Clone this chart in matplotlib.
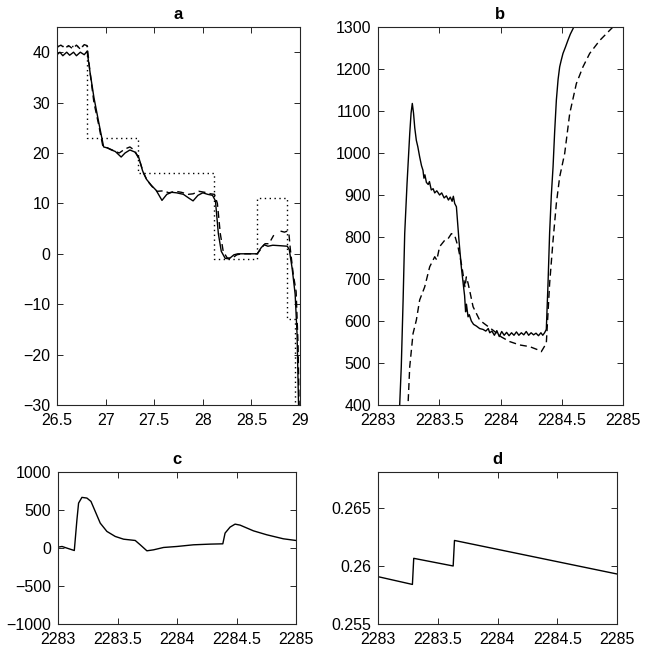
import numpy as np
import matplotlib
matplotlib.use("Agg")
import matplotlib.pyplot as plt

plt.rcParams['font.family'] = ['Liberation Sans', 'DejaVu Sans']
plt.rcParams['font.size'] = 11.5

# ---------------- Panel a ----------------
a_solid_x = [26.50, 26.53, 26.56, 26.60, 26.63, 26.67, 26.70, 26.74, 26.78, 26.81,
             26.84, 26.88, 26.93, 26.98, 27.02, 27.06, 27.10, 27.16, 27.20, 27.25,
             27.30, 27.34, 27.38, 27.42, 27.47, 27.52, 27.58, 27.63, 27.68, 27.73,
             27.80, 27.86, 27.90, 27.95, 28.00, 28.05, 28.10, 28.13, 28.16, 28.19,
             28.23, 28.27, 28.32, 28.36, 28.56, 28.60, 28.63, 28.67, 28.72, 28.80,
             28.87, 28.89, 28.92, 28.95, 28.97, 28.985, 29.0]
a_solid_y = [39.5, 40.0, 39.3, 40.0, 39.4, 40.0, 39.3, 40.0, 39.5, 40.2,
             36.0, 31.0, 26.0, 21.2, 21.0, 20.6, 20.3, 19.2, 20.0, 20.6,
             20.2, 19.2, 16.5, 14.8, 13.6, 12.6, 10.6, 11.8, 12.2, 12.1,
             11.8, 11.0, 10.5, 11.6, 12.1, 11.8, 11.6, 10.5, 4.0, 0.5,
             -0.9, -1.0, -0.2, 0.0, 0.0, 1.2, 1.8, 1.5, 1.7, 1.6,
             1.5, 0.8, -3.0, -8.0, -16.0, -30.0, -45.0]

a_dash_x = [26.50, 26.54, 26.58, 26.62, 26.66, 26.70, 26.74, 26.78, 26.81, 26.84,
            26.88, 26.93, 26.97, 27.02, 27.08, 27.14, 27.20, 27.25, 27.30, 27.35,
            27.39, 27.43, 27.48, 27.53, 27.60, 27.65, 27.72, 27.78, 27.85, 27.90,
            27.96, 28.02, 28.08, 28.12, 28.15, 28.18, 28.21, 28.25, 28.30, 28.35,
            28.40, 28.56, 28.60, 28.64, 28.68, 28.73, 28.76, 28.80, 28.84, 28.87,
            28.885, 28.90, 28.93, 28.96, 28.98, 28.995]
a_dash_y = [41.0, 41.4, 40.8, 41.3, 40.7, 41.4, 40.6, 41.5, 41.3, 36.0,
            30.0, 25.5, 21.5, 21.0, 20.5, 20.0, 20.8, 21.2, 20.5, 18.5,
            16.0, 14.5, 13.3, 12.4, 12.5, 12.1, 12.4, 12.2, 11.8, 11.9,
            12.4, 12.2, 11.9, 11.8, 10.0, 4.0, 0.5, -0.8, -0.9, -0.2,
            0.0, 0.0, 1.0, 2.0, 2.0, 3.7, np.nan, 4.5, 4.3, 4.5,
            4.2, 1.0, -4.0, -7.5, -18.0, -35.0]

a_ref_x = [26.50, 26.81, 26.81, 27.33, 27.33, 28.12, 28.12, 28.56, 28.56, 28.87, 28.87, 28.95, 28.95]
a_ref_y = [41.3, 41.3, 23.0, 23.0, 16.0, 16.0, -1.0, -1.0, 11.0, 11.0, -13.0, -13.0, -40.0]

# ---------------- Panel b ----------------
b_solid_x = [2283.170, 2283.177, 2283.190, 2283.205, 2283.218, 2283.237, 2283.259, 2283.270,
             2283.280, 2283.290, 2283.300, 2283.313, 2283.325, 2283.340, 2283.355, 2283.367,
             2283.375, 2283.383, 2283.395, 2283.410, 2283.420, 2283.435, 2283.450, 2283.463,
             2283.480, 2283.503, 2283.520, 2283.540, 2283.558, 2283.575, 2283.590, 2283.605,
             2283.615, 2283.626, 2283.640, 2283.661, 2283.680, 2283.695, 2283.707, 2283.715,
             2283.722, 2283.735, 2283.745, 2283.762, 2283.780, 2283.803, 2283.830, 2283.857,
             2283.880, 2283.900, 2283.912, 2283.930, 2283.950, 2283.970, 2283.990, 2284.010,
             2284.030, 2284.050, 2284.070, 2284.090, 2284.110, 2284.130, 2284.150, 2284.170,
             2284.190, 2284.210, 2284.230, 2284.250, 2284.270, 2284.290, 2284.310, 2284.330,
             2284.345, 2284.360, 2284.374, 2284.388, 2284.401, 2284.415, 2284.429, 2284.442,
             2284.456, 2284.470, 2284.483, 2284.495, 2284.510, 2284.530, 2284.550, 2284.570,
             2284.592, 2284.620]
b_solid_y = [330, 400, 491, 650, 808, 927, 1046, 1095,
             1118, 1095, 1060, 1030, 1015, 991, 970, 959,
             940, 948, 930, 925, 932, 912, 915, 905,
             910, 900, 905, 893, 898, 888, 895, 885,
             897, 880, 872, 792, 729, 690, 660, 622,
             640, 610, 615, 600, 592, 588, 582, 580,
             576, 582, 572, 576, 566, 577, 563, 575,
             566, 573, 565, 572, 566, 574, 566, 572,
             567, 575, 566, 572, 567, 571, 565, 572,
             566, 572, 580, 690, 810, 900, 967, 1050,
             1126, 1175, 1205, 1220, 1237, 1252, 1268, 1283,
             1296, 1315]

b_dash_x = [2283.235, 2283.245, 2283.259, 2283.286, 2283.313, 2283.340, 2283.381, 2283.422,
            2283.463, 2283.480, 2283.503, 2283.544, 2283.570, 2283.599, 2283.626, 2283.653,
            2283.680, 2283.690, 2283.700, 2283.710, 2283.721, 2283.735, 2283.748, 2283.776,
            2283.803, 2283.830, 2283.884, 2283.939, 2284.007, 2284.075, 2284.156, 2284.238,
            2284.300, 2284.333, 2284.374, 2284.401, 2284.429, 2284.456, 2284.483, 2284.524,
            2284.565, 2284.619, 2284.673, 2284.728, 2284.810, 2284.918, 2284.960]
b_dash_y = [330, 400, 491, 570, 602, 650, 681, 729,
            753, 745, 777, 792, 795, 808, 804, 777,
            737, 720, 700, 680, 705, 690, 673, 634,
            618, 602, 590, 578, 562, 551, 543, 539,
            532, 527, 547, 689, 792, 880, 943, 999,
            1094, 1165, 1205, 1237, 1268, 1300, 1320]

# ---------------- Panel c ----------------
c_x = [2283.000, 2283.034, 2283.076, 2283.137, 2283.159, 2283.173, 2283.201, 2283.243,
       2283.277, 2283.313, 2283.355, 2283.411, 2283.481, 2283.551, 2283.649, 2283.691,
       2283.747, 2283.803, 2283.887, 2283.999, 2284.138, 2284.278, 2284.385, 2284.404,
       2284.446, 2284.488, 2284.530, 2284.642, 2284.754, 2284.894, 2285.000]
c_y = [11, 20, -2, -33, 371, 591, 666, 657,
       613, 481, 327, 218, 152, 116, 99, 42,
       -37, -24, 7, 20, 42, 51, 55, 196,
       275, 314, 301, 226, 174, 121, 99]

# ---------------- Panel d ----------------
d_x = [2283.000, 2283.288, 2283.299, 2283.629, 2283.640, 2285.000]
d_y = [0.25908, 0.25841, 0.26066, 0.26000, 0.26220, 0.25931]

W, H = 645, 656
fig = plt.figure(figsize=(W / 100, H / 100), dpi=100)

def box(l, r, t, b):
    return [l / W, (H - b) / H, (r - l) / W, (b - t) / H]

def style(ax, title):
    ax.set_title(title, fontweight='bold', fontsize=12, pad=6)
    ax.tick_params(direction='in', top=True, right=True, length=4, width=0.7,
                   colors='#262626', labelcolor='black')
    ax.tick_params(axis='x', pad=6)
    ax.tick_params(axis='y', pad=5)
    for s in ax.spines.values():
        s.set_linewidth(0.8)
        s.set_color('#262626')

lw = 1.0
dash = (0, (5, 3))

ax_a = fig.add_axes(box(57, 300, 27, 405))
ax_a.plot(a_ref_x, a_ref_y, color='black', lw=1.0, linestyle=(0, (1, 2.5)))
ax_a.plot(a_dash_x, a_dash_y, color='black', lw=lw, linestyle=dash)
ax_a.plot(a_solid_x, a_solid_y, color='black', lw=lw)
ax_a.set_xlim(26.5, 29)
ax_a.set_ylim(-30, 45)
ax_a.set_xticks([26.5, 27, 27.5, 28, 28.5, 29])
ax_a.set_xticklabels(['26.5', '27', '27.5', '28', '28.5', '29'])
ax_a.set_yticks([-30, -20, -10, 0, 10, 20, 30, 40])
style(ax_a, 'a')

ax_b = fig.add_axes(box(378, 623, 27, 405))
ax_b.plot(b_dash_x, b_dash_y, color='black', lw=lw, linestyle=dash)
ax_b.plot(b_solid_x, b_solid_y, color='black', lw=lw)
ax_b.set_xlim(2283, 2285)
ax_b.set_ylim(400, 1300)
ax_b.set_xticks([2283, 2283.5, 2284, 2284.5, 2285])
ax_b.set_xticklabels(['2283', '2283.5', '2284', '2284.5', '2285'])
ax_b.set_yticks(list(range(400, 1301, 100)))
style(ax_b, 'b')

ax_c = fig.add_axes(box(58, 296, 472, 624))
ax_c.plot(c_x, c_y, color='black', lw=lw)
ax_c.set_xlim(2283, 2285)
ax_c.set_ylim(-1000, 1000)
ax_c.set_xticks([2283, 2283.5, 2284, 2284.5, 2285])
ax_c.set_xticklabels(['2283', '2283.5', '2284', '2284.5', '2285'])
ax_c.set_yticks([-1000, -500, 0, 500, 1000])
style(ax_c, 'c')

ax_d = fig.add_axes(box(378, 617, 472, 624))
ax_d.plot(d_x, d_y, color='black', lw=lw)
ax_d.set_xlim(2283, 2285)
ax_d.set_ylim(0.255, 0.2681)
ax_d.set_xticks([2283, 2283.5, 2284, 2284.5, 2285])
ax_d.set_xticklabels(['2283', '2283.5', '2284', '2284.5', '2285'])
ax_d.set_yticks([0.255, 0.26, 0.265])
ax_d.set_yticklabels(['0.255', '0.26', '0.265'])
style(ax_d, 'd')

fig.savefig('out.png', dpi=100)
